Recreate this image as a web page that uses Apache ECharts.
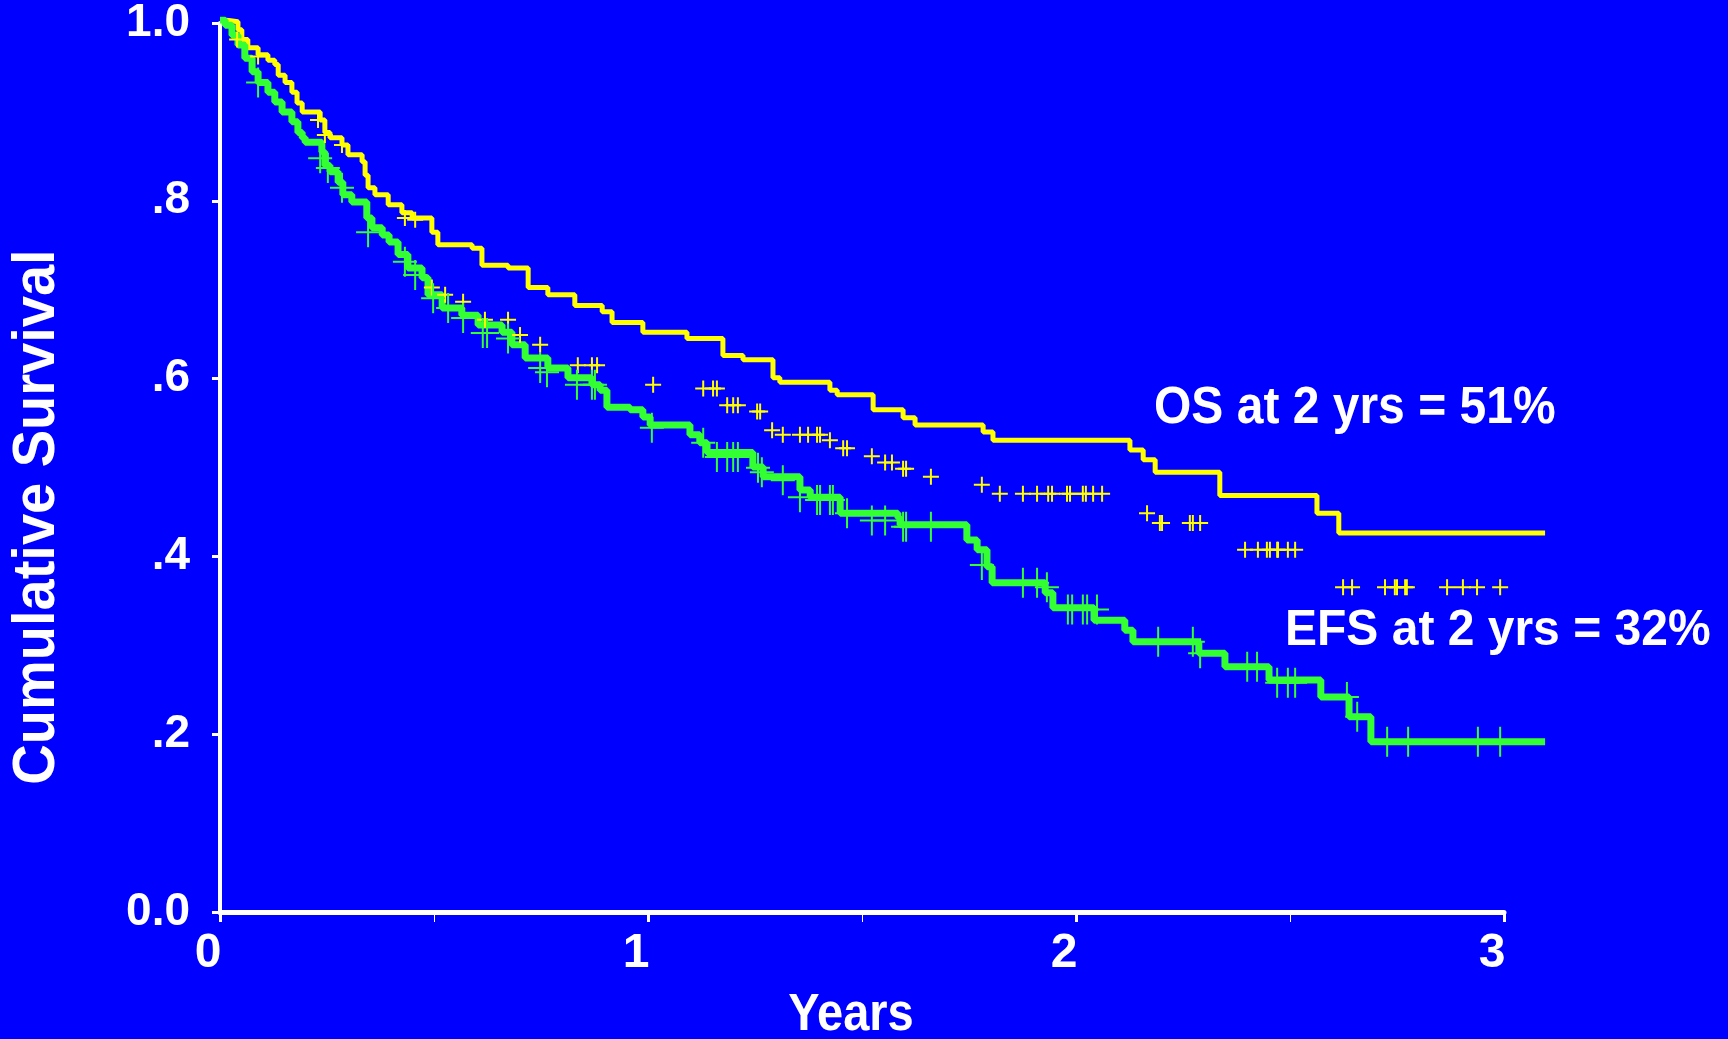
<!DOCTYPE html>
<html>
<head>
<meta charset="utf-8">
<script src="https://cdn.jsdelivr.net/npm/echarts@6/dist/echarts.min.js"></script>
<style>
  html, body { margin: 0; padding: 0; background: #0000ff; }
  #chart { width: 1728px; height: 1039px; }
</style>
</head>
<body>
<div id="chart"></div>
<script>
const xTickLabels = ['0', '1', '2', '3'];
const yTickLabels = ['0.0', '.2', '.4', '.6', '.8', '1.0'];

// OS curve: year of each drop, survival after it
const osYears = [0, 0.012, 0.042, 0.051, 0.065, 0.089, 0.112, 0.128, 0.136, 0.152, 0.168, 0.180, 0.192, 0.234, 0.245,
  0.257, 0.285, 0.299, 0.332, 0.339, 0.346, 0.362, 0.393, 0.425, 0.449, 0.495, 0.509,
  0.589, 0.612, 0.673, 0.720, 0.766, 0.829, 0.893, 0.916, 0.988, 1.091, 1.175, 1.222, 1.292, 1.308, 1.425, 1.442,
  1.526, 1.596, 1.624, 1.783, 1.806, 2.126, 2.157, 2.185, 2.336, 2.563, 2.614, 3.096];
const osSurvival = [1.0, 0.998, 0.989, 0.978, 0.969, 0.961, 0.955, 0.950, 0.938, 0.930, 0.919, 0.907, 0.897, 0.888, 0.874,
  0.868, 0.860, 0.849, 0.841, 0.826, 0.812, 0.804, 0.793, 0.784, 0.778, 0.762, 0.748,
  0.744, 0.725, 0.722, 0.700, 0.692, 0.680, 0.673, 0.661, 0.650, 0.643, 0.624, 0.619, 0.599, 0.594, 0.585, 0.580,
  0.563, 0.554, 0.546, 0.538, 0.529, 0.518, 0.507, 0.493, 0.467, 0.447, 0.425, 0.425];

// EFS curve
const efsYears = [0, 0.012, 0.028, 0.042, 0.058, 0.075, 0.089, 0.112, 0.128, 0.145, 0.168, 0.182, 0.192, 0.199, 0.238,
  0.245, 0.257, 0.276, 0.287, 0.308, 0.343, 0.355, 0.379, 0.395, 0.416, 0.439, 0.472, 0.486, 0.519, 0.565, 0.603,
  0.659, 0.682, 0.713, 0.766, 0.813, 0.869,
  0.888, 0.904, 0.958, 0.988, 1.005, 1.098, 1.121, 1.138, 1.245, 1.269, 1.355, 1.379, 1.449, 1.584, 1.589, 1.745,
  1.769, 1.792, 1.804, 1.928, 1.946, 2.042, 2.114, 2.133, 2.287, 2.348, 2.451, 2.572, 2.638, 2.689, 3.096];
const efsSurvival = [1.0, 0.994, 0.983, 0.972, 0.957, 0.942, 0.930, 0.919, 0.908, 0.897, 0.886, 0.874, 0.868, 0.863, 0.852,
  0.837, 0.830, 0.818, 0.804, 0.796, 0.778, 0.767, 0.759, 0.751, 0.737, 0.722, 0.711, 0.692, 0.677, 0.669, 0.658,
  0.650, 0.636, 0.621, 0.610, 0.599, 0.591,
  0.585, 0.566, 0.563, 0.555, 0.546, 0.535, 0.526, 0.515, 0.499, 0.488, 0.473, 0.465, 0.447, 0.442, 0.434, 0.417,
  0.406, 0.387, 0.369, 0.358, 0.341, 0.327, 0.316, 0.303, 0.290, 0.275, 0.260, 0.241, 0.219, 0.191, 0.191];

// censored marks (yellow drawn where they sit in the picture)
const osCensorYears = [0.040, 0.089, 0.229, 0.245, 0.285, 0.432, 0.456, 0.495, 0.526, 0.568, 0.619, 0.673, 0.701, 0.748,
  0.836, 0.869, 0.881, 1.012, 1.129, 1.152, 1.161, 1.185, 1.199, 1.210, 1.255, 1.262, 1.290, 1.315, 1.355, 1.374, 1.395,
  1.402, 1.425, 1.456, 1.465, 1.523, 1.554, 1.570, 1.596, 1.603, 1.661, 1.780, 1.822, 1.876, 1.909, 1.935, 1.944, 1.979,
  1.986, 2.016, 2.023, 2.040, 2.061, 2.166, 2.196, 2.201, 2.266, 2.273, 2.290, 2.395, 2.425, 2.446, 2.453, 2.470, 2.472,
  2.495, 2.512, 2.624, 2.645, 2.722, 2.745, 2.750, 2.769, 2.773, 2.867, 2.904, 2.937, 2.991];
const osCensorSurv = [0.978, 0.959, 0.888, 0.871, 0.860, 0.778, 0.776, 0.700, 0.692, 0.684, 0.664, 0.664, 0.647, 0.636,
  0.613, 0.613, 0.613, 0.591, 0.587, 0.587, 0.587, 0.568, 0.568, 0.568, 0.561, 0.561, 0.540, 0.535, 0.535, 0.535, 0.535,
  0.535, 0.529, 0.520, 0.520, 0.511, 0.504, 0.504, 0.497, 0.497, 0.488, 0.479, 0.469, 0.469, 0.469, 0.469, 0.469, 0.469,
  0.469, 0.469, 0.469, 0.469, 0.469, 0.447, 0.436, 0.436, 0.436, 0.436, 0.436, 0.406, 0.406, 0.406, 0.406, 0.406, 0.406,
  0.406, 0.406, 0.364, 0.364, 0.364, 0.364, 0.364, 0.364, 0.364, 0.364, 0.364, 0.364, 0.364];

const efsCensorYears = [0.089, 0.234, 0.252, 0.285, 0.346, 0.432, 0.456, 0.498, 0.533, 0.568, 0.614, 0.624, 0.673, 0.748,
  0.764, 0.834, 0.869, 0.876, 1.009, 1.129, 1.161, 1.185, 1.199, 1.210, 1.257, 1.266, 1.315, 1.355, 1.395, 1.402, 1.425,
  1.432, 1.465, 1.523, 1.554, 1.596, 1.603, 1.661, 1.780, 1.876, 1.909, 1.932, 1.981, 1.991, 2.016, 2.026, 2.049, 2.192,
  2.273, 2.290, 2.400, 2.423, 2.470, 2.495, 2.512, 2.633, 2.657, 2.727, 2.776, 2.939, 2.991];
const efsCensorSurv = [0.930, 0.845, 0.834, 0.812, 0.762, 0.729, 0.714, 0.688, 0.677, 0.666, 0.649, 0.649, 0.643, 0.610,
  0.605, 0.591, 0.591, 0.591, 0.543, 0.526, 0.510, 0.510, 0.510, 0.510, 0.498, 0.493, 0.484, 0.465, 0.462, 0.462, 0.462,
  0.462, 0.447, 0.439, 0.439, 0.432, 0.432, 0.432, 0.389, 0.369, 0.369, 0.364, 0.339, 0.339, 0.339, 0.339, 0.339, 0.303,
  0.303, 0.290, 0.275, 0.275, 0.257, 0.257, 0.257, 0.241, 0.219, 0.191, 0.191, 0.191, 0.191];

const zip = (a, b) => a.map((v, i) => [v, b[i]]);

const font = '"Liberation Sans", Arial, sans-serif';
const shadow = {textShadowColor: '#000', textShadowOffsetX: 3, textShadowOffsetY: 3, textShadowBlur: 0};
const yellowCross = 'path://M7,0h2v16h-2zM0,7h16v2h-16z';
const greenCross = 'path://M11,0h2v30h-2zM0,14h24v2h-24z';

// the curves run a bit past the last axis tick (3 yrs), so they sit on a
// second, hidden grid with the same scale (428 px per year) that reaches 3.1
const plotLeft = 220, plotTop = 20, plotBottom = 127;
const pxPerYear = 428;
const axisMax = 3, dataMax = 3.1;

const chart = echarts.init(document.getElementById('chart'));
const option = {
    backgroundColor: '#0000ff',
    animation: false,
    grid: [
        {left: plotLeft, right: 1728 - plotLeft - axisMax * pxPerYear, top: plotTop, bottom: plotBottom},
        {left: plotLeft, right: 1728 - plotLeft - dataMax * pxPerYear, top: plotTop, bottom: plotBottom}
    ],
    xAxis: [
        {
            type: 'value',
            gridIndex: 0,
            min: 0,
            max: axisMax,
            interval: 1,
            splitLine: {show: false},
            axisLine: {show: true, lineStyle: {color: '#fff', width: 5}},
            axisTick: {show: true, length: 10, lineStyle: {color: '#fff', width: 3}},
            minorTick: {show: true, splitNumber: 2, length: 10, lineStyle: {color: '#fff', width: 1}},
            axisLabel: {
                color: '#fff', fontFamily: font, fontWeight: 'bold', fontSize: 48, margin: 18,
                padding: [0, 24, 0, 0], ...shadow,
                formatter: v => xTickLabels[Math.round(v)]
            }
        },
        {type: 'value', gridIndex: 1, min: 0, max: dataMax, show: false}
    ],
    yAxis: [
        {
            type: 'value',
            gridIndex: 0,
            min: 0,
            max: 1,
            interval: 0.2,
            splitLine: {show: false},
            axisLine: {show: true, lineStyle: {color: '#fff', width: 4}},
            axisTick: {show: true, length: 8, lineStyle: {color: '#fff', width: 3}},
            axisLabel: {
                color: '#fff', fontFamily: font, fontWeight: 'bold', fontSize: 46, margin: 30, ...shadow,
                formatter: v => yTickLabels[Math.round(v / 0.2)]
            }
        },
        {type: 'value', gridIndex: 1, min: 0, max: 1, show: false}
    ],
    graphic: [
        {
            type: 'text', x: 38, y: 517, rotation: Math.PI / 2, scaleY: 1.05,
            style: {
                text: 'Cumulative Survival', fill: '#fff', font: 'bold 56px ' + font,
                align: 'center', verticalAlign: 'middle',
                shadowColor: '#000', shadowOffsetX: -3, shadowOffsetY: 3
            }
        },
        {
            type: 'text', x: 851, y: 1016, scaleY: 1.1,
            style: {
                text: 'Years', fill: '#fff', font: 'bold 47px ' + font,
                align: 'center', verticalAlign: 'middle',
                shadowColor: '#000', shadowOffsetX: 3, shadowOffsetY: 3
            }
        },
        {
            type: 'text', x: 1154, y: 409, scaleY: 1.08,
            style: {
                text: 'OS at 2 yrs = 51%', fill: '#fff', font: 'bold 48px ' + font,
                align: 'left', verticalAlign: 'middle',
                shadowColor: '#000', shadowOffsetX: 3, shadowOffsetY: 3
            }
        },
        {
            type: 'text', x: 1285, y: 631, scaleY: 1.05,
            style: {
                text: 'EFS at 2 yrs = 32%', fill: '#fff', font: 'bold 48px ' + font,
                align: 'left', verticalAlign: 'middle',
                shadowColor: '#000', shadowOffsetX: 3, shadowOffsetY: 3
            }
        }
    ],
    series: [
        {
            name: 'OS',
            type: 'line',
            xAxisIndex: 1,
            yAxisIndex: 1,
            step: 'end',
            symbol: 'none',
            lineStyle: {color: '#ffff00', width: 5},
            data: zip(osYears, osSurvival),
            z: 3
        },
        {
            name: 'EFS',
            type: 'line',
            xAxisIndex: 1,
            yAxisIndex: 1,
            step: 'end',
            symbol: 'none',
            lineStyle: {color: '#33ff33', width: 7},
            data: zip(efsYears, efsSurvival),
            z: 3
        },
        {
            name: 'OS censored',
            type: 'scatter',
            xAxisIndex: 1,
            yAxisIndex: 1,
            symbol: yellowCross,
            symbolSize: [16, 16],
            itemStyle: {color: '#ffff00', opacity: 1},
            data: zip(osCensorYears, osCensorSurv),
            z: 4
        },
        {
            name: 'EFS censored',
            type: 'scatter',
            xAxisIndex: 1,
            yAxisIndex: 1,
            symbol: greenCross,
            symbolSize: [24, 30],
            itemStyle: {color: '#33ff33', opacity: 1},
            data: zip(efsCensorYears, efsCensorSurv),
            z: 4
        }
    ]
};
option && chart.setOption(option);
</script>
</body>
</html>
